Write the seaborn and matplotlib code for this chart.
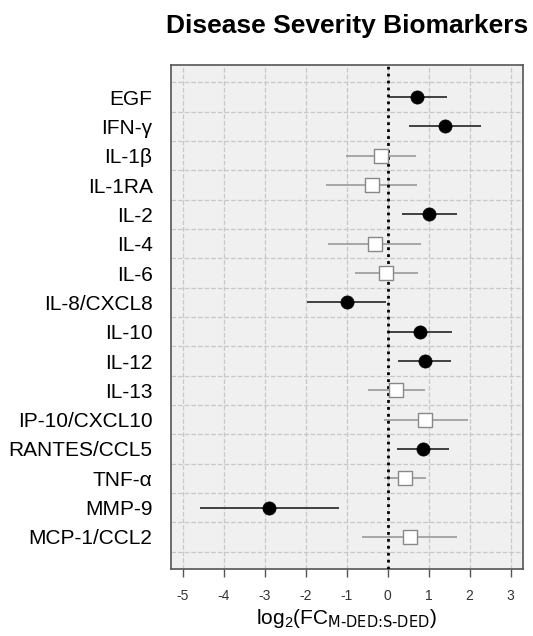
import numpy as np
import pandas as pd
import matplotlib
matplotlib.use('Agg')
import matplotlib.pyplot as plt
import seaborn as sns

# values
markers = ['EGF', 'IFN-γ', 'IL-1β', 'IL-1RA', 'IL-2', 'IL-4', 'IL-6', 'IL-8/CXCL8',
           'IL-10', 'IL-12', 'IL-13', 'IP-10/CXCL10', 'RANTES/CCL5', 'TNF-α',
           'MMP-9', 'MCP-1/CCL2']
log2fc = [0.72, 1.40, -0.17, -0.39, 1.01, -0.31, -0.03, -0.99,
          0.79, 0.90, 0.21, 0.92, 0.87, 0.42, -2.90, 0.54]
ci_low = [0.03, 0.53, -1.02, -1.50, 0.34, -1.46, -0.80, -1.98,
          0.02, 0.25, -0.49, -0.09, 0.22, -0.09, -4.58, -0.62]
ci_high = [1.45, 2.27, 0.69, 0.72, 1.68, 0.82, 0.75, -0.03,
           1.56, 1.54, 0.91, 1.95, 1.49, 0.93, -1.20, 1.68]
significant = [True, True, False, False, True, False, False, True,
               True, True, False, False, True, False, True, False]
x_ticks = [-5, -4, -3, -2, -1, 0, 1, 2, 3]

df = pd.DataFrame({'marker': markers, 'fc': log2fc, 'lo': ci_low,
                   'hi': ci_high, 'sig': significant})
df['row'] = np.arange(len(df))

sns.set_style('whitegrid', {'axes.facecolor': '#f0f0f0',
                            'axes.edgecolor': '#555555',
                            'grid.color': '#c8c8c8',
                            'grid.linestyle': '--'})
plt.rcParams['font.family'] = ['Liberation Sans', 'DejaVu Sans']

fig = plt.figure(figsize=(5.33, 6.36), dpi=100)
ax = fig.add_axes([0.320, 0.105, 0.661, 0.793])

# confidence intervals
sig_df = df[df['sig']]
ns_df = df[~df['sig']]
ax.hlines(ns_df['row'], ns_df['lo'], ns_df['hi'], color='#9a9a9a', lw=1.2, zorder=3)
ax.hlines(sig_df['row'], sig_df['lo'], sig_df['hi'], color='#333333', lw=1.3, zorder=3)

# zero line
ax.axvline(0, color='black', ls=(0, (1, 1.5)), lw=2, zorder=4)

sns.scatterplot(data=ns_df, x='fc', y='row', marker='s', s=90, color='white',
                edgecolor='#888888', linewidth=1, zorder=5, ax=ax)
sns.scatterplot(data=sig_df, x='fc', y='row', marker='o', s=90, color='black',
                edgecolor='black', linewidth=0.5, zorder=5, ax=ax)

ax.set_xlim(-5.3, 3.3)
ax.set_ylim(len(df) + 0.1, -1.1)
ax.set_xticks(x_ticks)
ax.set_xticklabels([str(t) for t in x_ticks])
ax.set_yticks(df['row'])
ax.set_yticklabels(df['marker'], fontsize=15, color='black')
ax.set_yticks(np.arange(-0.5, len(df), 1.0), minor=True)

ax.grid(True, axis='x', which='major', lw=0.9)
ax.grid(False, axis='y', which='major')
ax.grid(True, axis='y', which='minor', color='#c8c8c8', ls='--', lw=0.9)
ax.set_axisbelow(True)

ax.tick_params(axis='x', which='major', bottom=True, length=6, width=1,
               color='#555555', labelsize=10, labelcolor='#333333', pad=8)
ax.tick_params(axis='y', which='both', left=False, length=0, pad=13)

for s in ax.spines.values():
    s.set_color('#555555')
    s.set_linewidth(1.2)

ax.set_xlabel(r'$\mathregular{log_2(FC_{\text{M-DED:S-DED}})}$', fontsize=15,
              labelpad=3, color='black')
ax.set_ylabel('')
ax.set_title('Disease Severity Biomarkers', fontsize=19, fontweight='bold',
             pad=23, color='black')

fig.savefig('out.png', dpi=100)
